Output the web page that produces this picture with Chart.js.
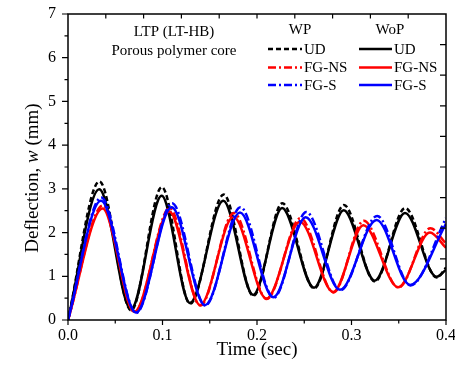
<!DOCTYPE html>
<html><head><meta charset="utf-8">
<script src="https://cdn.jsdelivr.net/npm/chart.js@4.4.1/dist/chart.umd.min.js"></script>
<style>html,body{margin:0;padding:0;background:#fff}#wrap{width:455px;height:369px;position:relative}</style>
</head><body><div id="wrap"><canvas id="c" width="455" height="369"></canvas></div>
<script>
// ---- data: [time (sec), deflection w (mm)] ----
const xTickLabels = ['0.0','0.1','0.2','0.3','0.4'];
const yTickLabels = ['0','1','2','3','4','5','6','7'];
const groupNames = ['WP','WoP'];
const seriesNames = ['UD','FG-NS','FG-S'];

const udWP  = [[0,0],[0.0333,3.17],[0.0668,0.22],[0.0993,3.04],[0.1292,0.37],[0.1647,2.87],[0.1962,0.55],[0.2268,2.67],[0.2605,0.72],[0.2920,2.63],[0.3247,0.88],[0.3568,2.56],[0.3902,0.97],[0.4,1.20]];
const udWoP = [[0,0],[0.0331,2.99],[0.0667,0.25],[0.0991,2.84],[0.1290,0.39],[0.1644,2.73],[0.1960,0.57],[0.2265,2.56],[0.2603,0.74],[0.2918,2.51],[0.3245,0.90],[0.3566,2.45],[0.3900,0.99],[0.4,1.15]];
const nsWP  = [[0,0],[0.0370,2.62],[0.0705,0.18],[0.1075,2.56],[0.1400,0.33],[0.1755,2.45],[0.2103,0.48],[0.2460,2.33],[0.2810,0.63],[0.3130,2.27],[0.3498,0.74],[0.3835,2.10],[0.4,1.75]];
const nsWoP = [[0,0],[0.0367,2.55],[0.0702,0.19],[0.1072,2.48],[0.1397,0.34],[0.1750,2.36],[0.2100,0.49],[0.2455,2.25],[0.2807,0.64],[0.3125,2.17],[0.3495,0.75],[0.3830,2.00],[0.4,1.65]];
const sWP   = [[0,0],[0.0352,2.80],[0.0722,0.16],[0.1102,2.67],[0.1453,0.33],[0.1825,2.58],[0.2177,0.51],[0.2522,2.47],[0.2882,0.68],[0.3272,2.38],[0.3625,0.79],[0.4,2.33]];
const sWoP  = [[0,0],[0.0349,2.73],[0.0720,0.17],[0.1097,2.58],[0.1450,0.34],[0.1820,2.46],[0.2173,0.52],[0.2515,2.35],[0.2878,0.69],[0.3266,2.29],[0.3620,0.80],[0.4,2.20]];

const FONT = '"Liberation Serif", "Times New Roman", serif';
const DASH_UD = [5,3];
const DASH_DD = [8,3,2,3];
const COLORS = ['#000000','#ff0000','#0000ff'];

const toXY = a => a.map(p => ({x:p[0], y:p[1]}));
function ds(label, arr, color, dash, order){
  return {label, data: toXY(arr), borderColor: color, borderWidth: 2.5, borderDash: dash,
    pointRadius: 0, fill: false, cubicInterpolationMode: 'monotone', order};
}

const overlay = {
  id: 'overlay',
  afterDraw(chart){
    const {ctx, chartArea:a, scales:{x, y}} = chart;
    ctx.save();
    ctx.strokeStyle = '#000'; ctx.fillStyle = '#000';
    ctx.lineWidth = 1.5; ctx.setLineDash([]);
    ctx.strokeRect(a.left, a.top, a.right - a.left, a.bottom - a.top);
    ctx.lineWidth = 1.2;
    ctx.beginPath();
    // left ticks (outward), major integers, minor halves
    for (let i = 0; i <= 14; i++){
      const py = y.getPixelForValue(i*0.5);
      const len = i % 2 === 0 ? 6 : 3.5;
      ctx.moveTo(a.left, py); ctx.lineTo(a.left - len, py);
    }
    // bottom ticks (outward) every 0.05
    for (let i = 0; i <= 8; i++){
      const px = x.getPixelForValue(i*0.05);
      const len = i % 2 === 0 ? 5 : 3.5;
      ctx.moveTo(px, a.bottom); ctx.lineTo(px, a.bottom + len);
    }
    // top ticks (inward) every 0.04
    for (let i = 1; i < 10; i++){
      const px = x.getPixelForValue(i*0.04);
      ctx.moveTo(px, a.top); ctx.lineTo(px, a.top + 4.5);
    }
    // right ticks (inward) every 0.7
    for (let i = 1; i < 10; i++){
      const py = y.getPixelForValue(i*0.7);
      ctx.moveTo(a.right, py); ctx.lineTo(a.right - 6, py);
    }
    ctx.stroke();

    // axis titles
    ctx.textBaseline = 'middle';
    ctx.font = '19px ' + FONT;
    ctx.textAlign = 'center';
    ctx.fillText('Time (sec)', (a.left + a.right)/2, 350);
    ctx.save();
    ctx.translate(33, 178);
    ctx.rotate(-Math.PI/2);
    const p1 = 'Deflection, ', p2 = 'w', p3 = ' (mm)';
    ctx.font = '19px ' + FONT; const w1 = ctx.measureText(p1).width, w3 = ctx.measureText(p3).width;
    ctx.font = 'italic 19px ' + FONT; const w2 = ctx.measureText(p2).width;
    let sx = -(w1 + w2 + w3)/2;
    ctx.textAlign = 'left';
    ctx.font = '19px ' + FONT; ctx.fillText(p1, sx, 0); sx += w1;
    ctx.font = 'italic 19px ' + FONT; ctx.fillText(p2, sx, 0); sx += w2;
    ctx.font = '19px ' + FONT; ctx.fillText(p3, sx, 0);
    ctx.restore();

    // annotation
    ctx.font = '15px ' + FONT; ctx.textAlign = 'center';
    ctx.fillText('LTP (LT-HB)', 174, 32);
    ctx.fillText('Porous polymer core', 174, 51);
    ctx.fillText(groupNames[0], 300, 30);
    ctx.fillText(groupNames[1], 390, 30);

    // legend
    const rows = [49, 67.5, 85];
    const dashes = [DASH_UD, DASH_DD, DASH_DD];
    ctx.textAlign = 'left';
    for (let r = 0; r < 3; r++){
      ctx.strokeStyle = COLORS[r]; ctx.lineWidth = 2.5;
      ctx.setLineDash(dashes[r]);
      ctx.beginPath(); ctx.moveTo(268, rows[r]); ctx.lineTo(302, rows[r]); ctx.stroke();
      ctx.setLineDash([]);
      ctx.beginPath(); ctx.moveTo(359, rows[r]); ctx.lineTo(392, rows[r]); ctx.stroke();
      ctx.fillStyle = '#000';
      ctx.fillText(seriesNames[r], 304, rows[r] + 1);
      ctx.fillText(seriesNames[r], 394, rows[r] + 1);
    }
    ctx.restore();
  }
};

new Chart(document.getElementById('c'), {
  type: 'line',
  data: {
    datasets: [
      ds('FG-S WP',  sWP,   COLORS[2], DASH_DD, 1),
      ds('FG-S WoP', sWoP,  COLORS[2], [],      2),
      ds('FG-NS WP', nsWP,  COLORS[1], DASH_DD, 3),
      ds('FG-NS WoP',nsWoP, COLORS[1], [],      4),
      ds('UD WP',    udWP,  COLORS[0], DASH_UD, 5),
      ds('UD WoP',   udWoP, COLORS[0], [],      6)
    ]
  },
  options: {
    responsive: false, animation: false, devicePixelRatio: 1, events: [],
    layout: {padding: {top: 14, right: 9, left: 0, bottom: 0}},
    plugins: {legend: {display: false}, tooltip: {enabled: false}, title: {display: false}},
    scales: {
      x: {
        type: 'linear', min: 0, max: 0.4,
        grid: {display: false, drawTicks: false, tickLength: 0},
        border: {display: false},
        ticks: {stepSize: 0.1, padding: 6, color: '#000', font: {family: FONT, size: 16},
          maxRotation: 0, autoSkip: false,
          callback: (v) => xTickLabels[Math.round(v*10)] ?? ''},
        afterFit: (s) => { s.height = 49; s.paddingRight = 0; s.paddingLeft = 0; }
      },
      y: {
        type: 'linear', min: 0, max: 7,
        grid: {display: false, drawTicks: false, tickLength: 0},
        border: {display: false},
        ticks: {stepSize: 1, padding: 12, color: '#000', font: {family: FONT, size: 16},
          callback: (v) => yTickLabels[Math.round(v)] ?? ''},
        afterFit: (s) => { s.width = 68; s.paddingTop = 0; s.paddingBottom = 0; }
      }
    }
  },
  plugins: [overlay]
});
</script></body></html>
